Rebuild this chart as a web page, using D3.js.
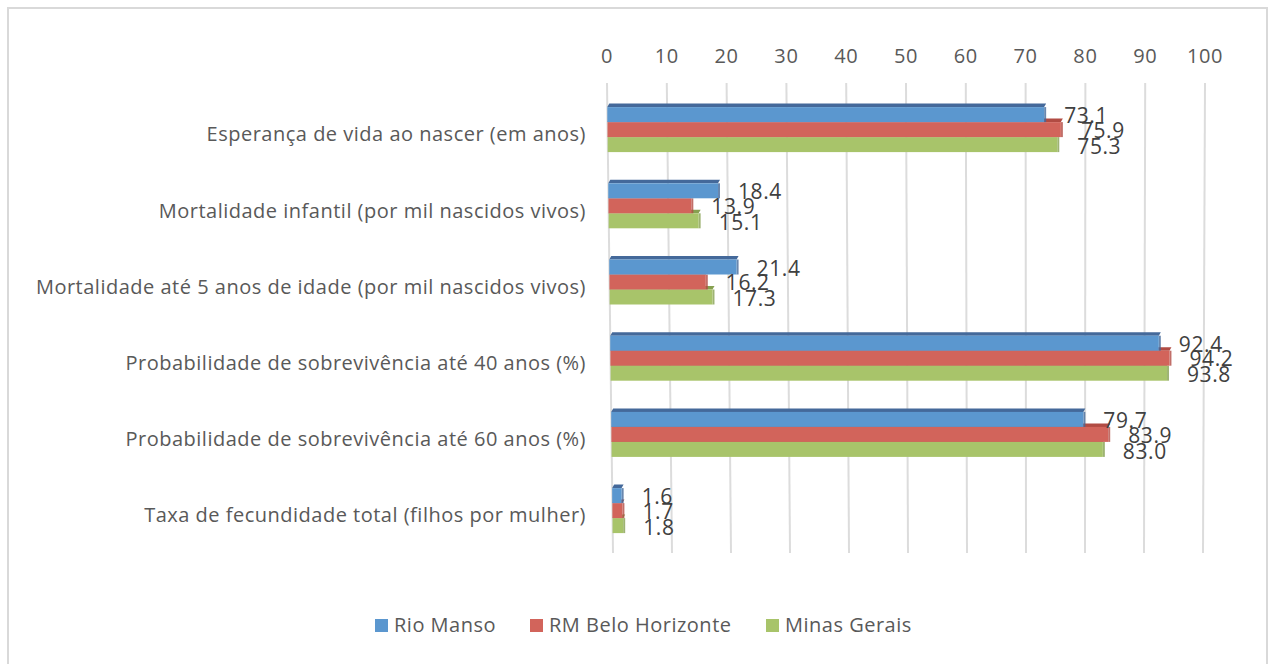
<!DOCTYPE html>
<html>
<head>
<meta charset="utf-8">
<script src="https://cdn.jsdelivr.net/npm/d3@7"></script>
<style>
  body { margin: 0; background: #fff; }
  svg text { font-family: "Open Sans", sans-serif; }
</style>
</head>
<body>
<div id="container"></div>
<script>
const categories = [
    "Esperança de vida ao nascer (em anos)",
    "Mortalidade infantil (por mil nascidos vivos)",
    "Mortalidade até 5 anos de idade (por mil nascidos vivos)",
    "Probabilidade de sobrevivência até 40 anos (%)",
    "Probabilidade de sobrevivência até 60 anos (%)",
    "Taxa de fecundidade total (filhos por mulher)"
]
const seriesNames = ["Rio Manso", "RM Belo Horizonte", "Minas Gerais"]
const rioManso = [73.1, 18.4, 21.4, 92.4, 79.7, 1.6]
const rmBeloHorizonte = [75.9, 13.9, 16.2, 94.2, 83.9, 1.7]
const minasGerais = [75.3, 15.1, 17.3, 93.8, 83.0, 1.8]
const tickValues = [0, 10, 20, 30, 40, 50, 60, 70, 80, 90, 100]

const colors = ["#5b97cf", "#d2645b", "#a8c46a"]
const topColors = ["#44699a", "#b14b43", "#86a050"]

const width = 1272, height = 664
const gridTop = 83, gridBottom = 553

const svg = d3.select('#container').append('svg')
    .attr('width', width).attr('height', height)

svg.append('rect')
    .attr('x', 8).attr('y', 8).attr('width', 1259).attr('height', 670)
    .attr('fill', 'none').attr('stroke', '#d9d9d9').attr('stroke-width', 2)

// the 3d view makes the value axis slightly narrower at the bottom
const xTop = d3.scaleLinear().domain([0, 100]).range([607, 1205])
const xBot = d3.scaleLinear().domain([0, 100]).range([613, 1203])
const xAt = (v, y) => {
    const t = (y - gridTop) / (gridBottom - gridTop)
    return xTop(v) + (xBot(v) - xTop(v)) * t
}

const yCat = d3.scaleBand().domain(categories).range([90, 547.2])
const ySer = d3.scaleBand().domain(seriesNames).range([-21, 24])
const depth = 3.5

// gridlines
svg.append('g').selectAll('line')
    .data(tickValues).join('line')
    .attr('x1', d => xAt(d, gridTop)).attr('y1', gridTop)
    .attr('x2', d => xAt(d, gridBottom)).attr('y2', gridBottom)
    .attr('stroke', '#dcdcdc').attr('stroke-width', 2)

// tick labels
svg.append('g').selectAll('text')
    .data(tickValues).join('text')
    .attr('x', d => xTop(d)).attr('y', 58)
    .attr('text-anchor', 'middle').attr('dominant-baseline', 'middle')
    .attr('font-size', 20).attr('letter-spacing', 0.6).attr('fill', '#595959')
    .text(d => d)

// category labels
svg.append('g').selectAll('text')
    .data(categories).join('text')
    .attr('x', 586).attr('y', d => yCat(d) + yCat.bandwidth() / 2 + 8)
    .attr('text-anchor', 'end').attr('dominant-baseline', 'middle')
    .attr('font-size', 20).attr('letter-spacing', 0.5).attr('fill', '#595959')
    .text(d => d)

const allSeries = [rioManso, rmBeloHorizonte, minasGerais]
const bars = []
categories.forEach((c, i) => {
    const cy = yCat(c) + yCat.bandwidth() / 2
    allSeries.forEach((vals, s) => {
        bars.push({ cat: c, s: s, v: vals[i], y: cy + ySer(seriesNames[s]), cy: cy })
    })
})

// draw back to front: green first so the upper bars cover its top face
const barG = svg.append('g')
bars.slice().sort((a, b) => b.s - a.s).forEach(b => {
    const x0 = xAt(0, b.y), x1 = xAt(b.v, b.y)
    const h = ySer.bandwidth()
    barG.append('polygon')
        .attr('points', [[x0, b.y], [x0 + 2, b.y - depth], [x1 + 2, b.y - depth], [x1, b.y]].join(' '))
        .attr('fill', topColors[b.s])
    barG.append('rect')
        .attr('x', x1).attr('y', b.y).attr('width', 2).attr('height', h)
        .attr('fill', topColors[b.s]).attr('opacity', 0.8)
    barG.append('rect')
        .attr('x', x0).attr('y', b.y).attr('width', x1 - x0).attr('height', h)
        .attr('fill', colors[b.s])
})

// value labels
const labelDy = [-10.5, 4, 20]
svg.append('g').selectAll('text')
    .data(bars).join('text')
    .attr('x', d => xAt(d.v, d.y) + 20)
    .attr('y', d => d.cy + labelDy[d.s])
    .attr('dominant-baseline', 'middle')
    .attr('font-size', 21).attr('letter-spacing', 0.6).attr('fill', '#404040')
    .text(d => d.v.toFixed(1))

// legend
const legendX = [375, 530, 766]
const legend = svg.append('g')
seriesNames.forEach((n, i) => {
    legend.append('rect')
        .attr('x', legendX[i]).attr('y', 619).attr('width', 13).attr('height', 13)
        .attr('fill', colors[i])
    legend.append('text')
        .attr('x', legendX[i] + 19).attr('y', 627)
        .attr('dominant-baseline', 'middle')
        .attr('font-size', 20).attr('letter-spacing', 0.5).attr('fill', '#595959')
        .text(n)
})
</script>
</body>
</html>
